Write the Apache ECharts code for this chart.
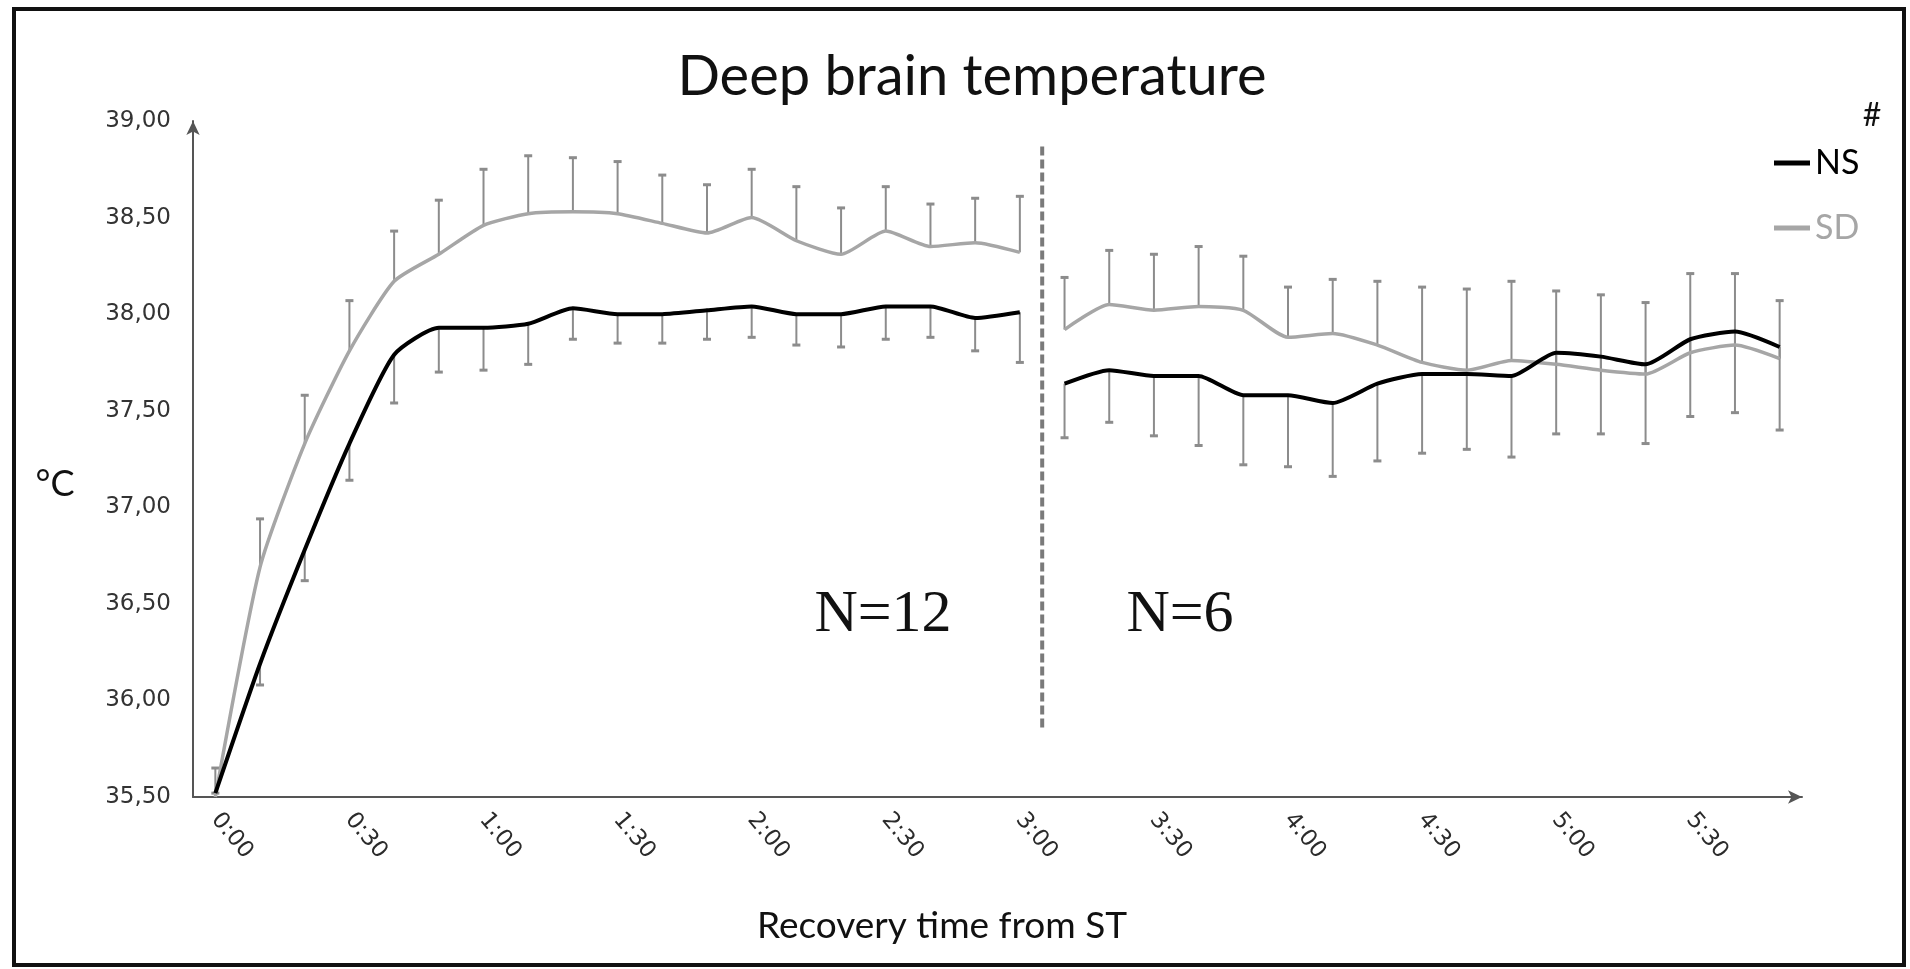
<!DOCTYPE html>
<html>
<head>
<meta charset="utf-8">
<script src="https://cdn.jsdelivr.net/npm/echarts@6/dist/echarts.min.js"></script>
<style>
html,body{margin:0;padding:0;background:#fff;}
#chart{width:1910px;height:969px;}
</style>
</head>
<body>
<div id="chart"></div>
<script>
// ---- data ----
const timeLabels = ['0:00','0:10','0:20','0:30','0:40','0:50','1:00','1:10','1:20','1:30','1:40','1:50',
  '2:00','2:10','2:20','2:30','2:40','2:50','3:00','3:10','3:20','3:30','3:40','3:50',
  '4:00','4:10','4:20','4:30','4:40','4:50','5:00','5:10','5:20','5:30','5:40','5:50'];
const nsMean = [35.52,36.19,36.78,37.33,37.79,37.93,37.93,37.95,38.03,38.00,38.00,38.02,
  38.04,38.00,38.00,38.04,38.04,37.98,38.01,37.64,37.71,37.68,37.68,37.58,
  37.58,37.54,37.64,37.69,37.69,37.68,37.80,37.78,37.74,37.87,37.91,37.83];
const nsErr = [0.00,0.11,0.16,0.19,0.25,0.23,0.22,0.21,0.16,0.15,0.15,0.15,
  0.16,0.16,0.17,0.17,0.16,0.17,0.26,0.28,0.27,0.31,0.36,0.36,
  0.37,0.38,0.40,0.41,0.39,0.42,0.42,0.40,0.41,0.40,0.42,0.43];
const sdMean = [35.50,36.69,37.33,37.81,38.17,38.31,38.46,38.52,38.53,38.52,38.47,38.42,
  38.50,38.38,38.31,38.43,38.35,38.37,38.32,37.92,38.05,38.02,38.04,38.02,
  37.88,37.90,37.84,37.75,37.71,37.76,37.74,37.71,37.69,37.80,37.84,37.77];
const sdErr = [0.15,0.25,0.25,0.26,0.26,0.28,0.29,0.30,0.28,0.27,0.25,0.25,
  0.25,0.28,0.24,0.23,0.22,0.23,0.29,0.27,0.28,0.29,0.31,0.28,
  0.26,0.28,0.33,0.39,0.42,0.41,0.38,0.39,0.37,0.41,0.37,0.30];
const lastIndexFirstPart = 18;          // N=12 part ends at 3:00
const dividerRange = [35.86, 38.88];    // vertical dashed separator extent (°C)
const yMin = 35.5, yMax = 39.0, yStep = 0.5;

// ---- helpers ----
function part(arr, first) {
  return arr.map((v, i) => (first ? i <= lastIndexFirstPart : i > lastIndexFirstPart) ? v : '-');
}
const errColor = '#8c8c8c';
function errRender(params, api) {
  const x = api.value(0);
  const p0 = api.coord([x, api.value(1)]);
  const p1 = api.coord([x, api.value(2)]);
  return {
    type: 'group',
    children: [
      {type:'line', shape:{x1:p0[0], y1:p0[1], x2:p1[0], y2:p1[1]}, style:{stroke:errColor, lineWidth:2}},
      {type:'line', shape:{x1:p1[0]-4, y1:p1[1], x2:p1[0]+4, y2:p1[1]}, style:{stroke:errColor, lineWidth:3}}
    ]
  };
}
const sdErrData = sdMean.map((v, i) => [i, v, v + sdErr[i]]);
const nsErrData = nsMean.map((v, i) => [i, v, v - nsErr[i]]);

const chart = echarts.init(document.getElementById('chart'));
const axisCol = '#555';
const lineStyleNS = {color:'#000', width:4};
const lineStyleSD = {color:'#a6a6a6', width:3.5};

chart.setOption({
  animation: false,
  backgroundColor: '#fff',
  title: {
    text: 'Deep brain temperature',
    left: 967, top: 40, textAlign: 'center',
    textStyle: {fontFamily:'Lato', fontSize:56, fontWeight:'normal', color:'#111', lineHeight:64}
  },
  legend: {
    data: [{name:'NS', textStyle:{color:'#000'}}, {name:'SD', textStyle:{color:'#a6a6a6'}}],
    orient: 'vertical', left: 1769, top: 138,
    icon: 'rect', itemWidth: 36, itemHeight: 5, itemGap: 25,
    textStyle: {fontFamily:'Lato', fontSize:34, lineHeight:40}
  },
  grid: {left:193, right:108, top:121, bottom:172, containLabel:false},
  xAxis: {
    type: 'category',
    data: timeLabels,
    boundaryGap: true,
    axisLine: {show:true, lineStyle:{color:axisCol, width:2}, symbol:['none','arrow'], symbolSize:[10,14]},
    axisTick: {show:false},
    axisLabel: {interval:2, rotate:-50, margin:19, fontFamily:'DejaVu Sans', fontSize:23, color:'#2b2b2b'},
    splitLine: {show:false}
  },
  yAxis: {
    type: 'value', min: yMin, max: yMax, interval: yStep,
    axisLine: {show:true, lineStyle:{color:axisCol, width:2}, symbol:['none','arrow'], symbolSize:[10,14]},
    axisTick: {show:false},
    splitLine: {show:false},
    axisLabel: {margin:22, fontFamily:'DejaVu Sans', fontSize:23, color:'#333',
      formatter: v => v.toFixed(2).replace('.', ',')}
  },
  series: [
    {type:'custom', name:'sdErr', renderItem:errRender, data:sdErrData, z:1, silent:true},
    {type:'custom', name:'nsErr', renderItem:errRender, data:nsErrData, z:1, silent:true},
    {type:'line', name:'SD', data:part(sdMean, true), symbol:'none', smooth:0.2, lineStyle:lineStyleSD, itemStyle:{color:'#a6a6a6'}, z:3},
    {type:'line', name:'SD', data:part(sdMean, false), symbol:'none', smooth:0.2, lineStyle:lineStyleSD, itemStyle:{color:'#a6a6a6'}, z:3},
    {type:'line', name:'NS', data:part(nsMean, true), symbol:'none', smooth:0.2, lineStyle:lineStyleNS, itemStyle:{color:'#000'}, z:4},
    {type:'line', name:'NS', data:part(nsMean, false), symbol:'none', smooth:0.2, lineStyle:lineStyleNS, itemStyle:{color:'#000'}, z:4},
    {type:'custom', name:'divider', silent:true, z:2,
      data:[[lastIndexFirstPart, dividerRange[0], dividerRange[1]]],
      renderItem: function(params, api){
        const a = api.coord([api.value(0), api.value(1)]);
        const b = api.coord([api.value(0) + 1, api.value(2)]);
        const x = (a[0] + b[0]) / 2;
        return {type:'line', shape:{x1:x, y1:a[1], x2:x, y2:b[1]},
          style:{stroke:'#7a7a7a', lineWidth:4, lineDash:[9,4]}};
      }}
  ],
  graphic: [
    {type:'rect', shape:{x:14, y:9, width:1890, height:956}, style:{fill:'none', stroke:'#111', lineWidth:4}, silent:true},
    {type:'text', x:55, y:484, style:{text:'°C', font:'36px Lato', fill:'#111', align:'center', verticalAlign:'middle'}},
    {type:'text', x:942, y:926, style:{text:'Recovery time from ST', font:'37px Lato', fill:'#111', align:'center', verticalAlign:'middle'}},
    {type:'text', x:883, y:615, style:{text:'N=12', font:'60px "Liberation Serif"', fill:'#111', align:'center', verticalAlign:'middle'}},
    {type:'text', x:1180, y:615, style:{text:'N=6', font:'60px "Liberation Serif"', fill:'#111', align:'center', verticalAlign:'middle'}},
    {type:'text', x:1872, y:116, style:{text:'#', font:'32px Lato', fill:'#111', align:'center', verticalAlign:'middle'}}
  ]
});
</script>
</body>
</html>
